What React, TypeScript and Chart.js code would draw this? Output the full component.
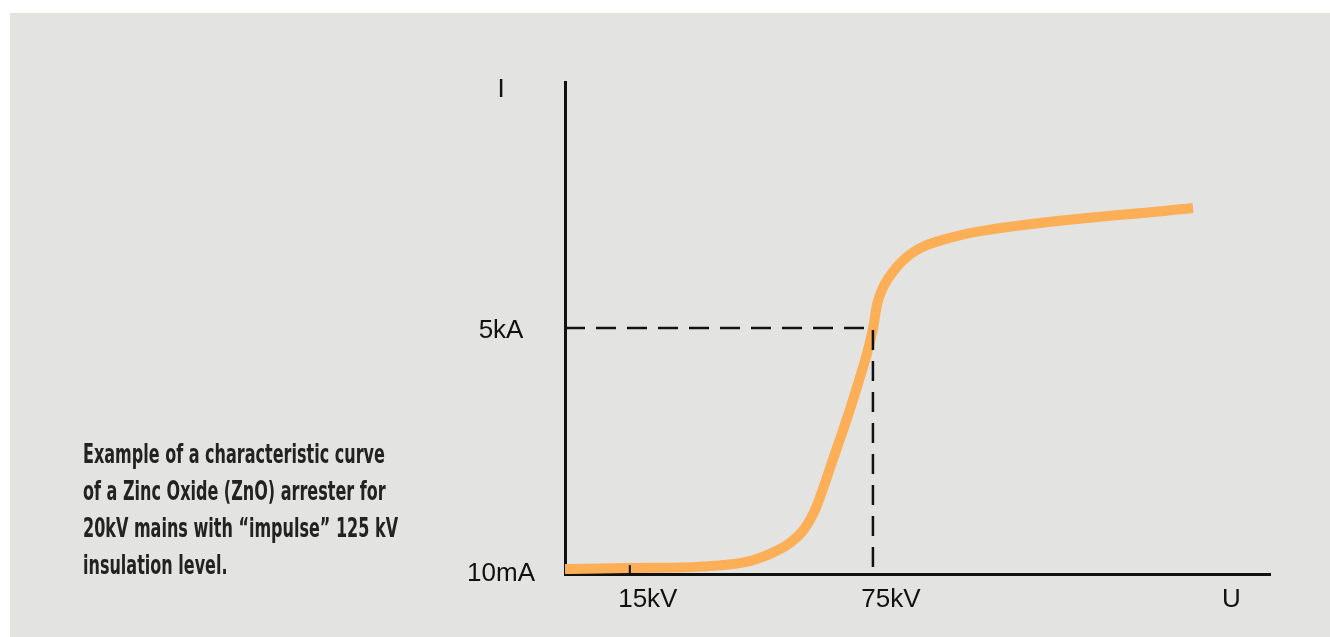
import React, { useEffect, useRef } from 'react';
import { Chart, registerables } from 'chart.js';

Chart.register(...registerables);

// Characteristic curve of the ZnO arrester (U in kV, I in kA, schematic)
const curveU = [-1, 15, 32.3, 43.4, 49.6, 54.5, 58.2, 60.7, 65.1, 70.6, 75, 76, 77.2, 80.9, 85.9, 94.8, 103.1, 154];
const curveI = [0.1, 0.12, 0.15, 0.24, 0.41, 0.63, 0.93, 1.3, 2.32, 3.68, 4.98, 5.47, 5.77, 6.24, 6.59, 6.85, 6.99, 7.44];

// dashed guide at 5kA / 75kV
const guideU = [-1, 75, 75];
const guideI = [5, 5, 0];

// small inward tick at 15kV
const tickMarkU = [15, 15];
const tickMarkI = [0, 0.18];

const xTickValues = [15, 75, 159];
const xTickLabels = ['15kV', '75kV', 'U'];
const yTickValues = [0, 4.94, 9.85];
const yTickLabels = ['10mA', '5kA', 'I'];

const captionLines = [
  'Example of a characteristic curve',
  'of a Zinc Oxide (ZnO) arrester for',
  '20kV mains with \u201Cimpulse\u201D 125 kV',
  'insulation level.',
];

const toPoints = (xs: number[], ys: number[]) => xs.map((x, i) => ({ x, y: ys[i] }));

export default function App() {
  const ref = useRef<HTMLCanvasElement | null>(null);

  useEffect(() => {
    if (!ref.current) return;
    const font = { family: '"Liberation Sans", Arial, sans-serif', size: 26 };
    const chart = new Chart(ref.current, {
      type: 'line',
      data: {
        datasets: [
          {
            data: toPoints(tickMarkU, tickMarkI),
            borderColor: '#111',
            borderWidth: 2,
            pointRadius: 0,
            order: 0,
          },
          {
            data: toPoints(guideU, guideI),
            borderColor: '#111',
            borderWidth: 2.5,
            borderDash: [20, 11],
            pointRadius: 0,
            order: 1,
          },
          {
            data: toPoints(curveU, curveI),
            borderColor: '#fcaf56',
            borderWidth: 10,
            pointRadius: 0,
            cubicInterpolationMode: 'monotone',
            tension: 0.4,
            order: 2,
          },
        ],
      },
      options: {
        responsive: false,
        animation: false,
        layout: { padding: { left: 0, right: 60, top: 69, bottom: 0 } },
        plugins: { legend: { display: false }, tooltip: { enabled: false } },
        scales: {
          x: {
            type: 'linear',
            min: -1,
            max: 173,
            grid: { display: false, drawTicks: false },
            border: { display: true, color: '#111', width: 3 },
            afterFit: (s: any) => { s.height = 63; },
            afterBuildTicks: (s: any) => { s.ticks = xTickValues.map((v) => ({ value: v })); },
            ticks: {
              autoSkip: false,
              maxRotation: 0,
              padding: 10,
              labelOffset: 18,
              color: '#111',
              font,
              callback: (_v: any, i: number) => xTickLabels[i],
            },
          },
          y: {
            type: 'linear',
            min: 0,
            max: 10,
            grid: { display: false, drawTicks: false },
            border: { display: true, color: '#111', width: 3 },
            afterFit: (s: any) => { s.width = 555; },
            afterBuildTicks: (s: any) => { s.ticks = yTickValues.map((v) => ({ value: v })); },
            ticks: {
              autoSkip: false,
              crossAlign: 'center',
              padding: 30,
              color: '#111',
              font,
              callback: (_v: any, i: number) => yTickLabels[i],
            },
          },
        },
      },
    } as any);
    return () => chart.destroy();
  }, []);

  return (
    <div
      style={{
        position: 'absolute',
        left: 10,
        top: 13,
        width: 1320,
        height: 624,
        background: '#e3e3e1',
        overflow: 'hidden',
      }}
    >
      <canvas ref={ref} width={1320} height={624} style={{ position: 'absolute', left: 0, top: 0, width: 1320, height: 624 }} />
      <div
        style={{
          position: 'absolute',
          left: 73,
          top: 423,
          fontFamily: '"Liberation Sans Narrow", "DejaVu Sans Condensed", "Roboto Condensed", sans-serif',
          fontWeight: 'bold',
          fontSize: 26,
          lineHeight: '37px',
          color: '#222',
          whiteSpace: 'nowrap',
          transform: 'scaleX(0.685)',
          transformOrigin: 'left top',
        }}
      >
        {captionLines.map((l, i) => (
          <div key={i}>{l}</div>
        ))}
      </div>
    </div>
  );
}
